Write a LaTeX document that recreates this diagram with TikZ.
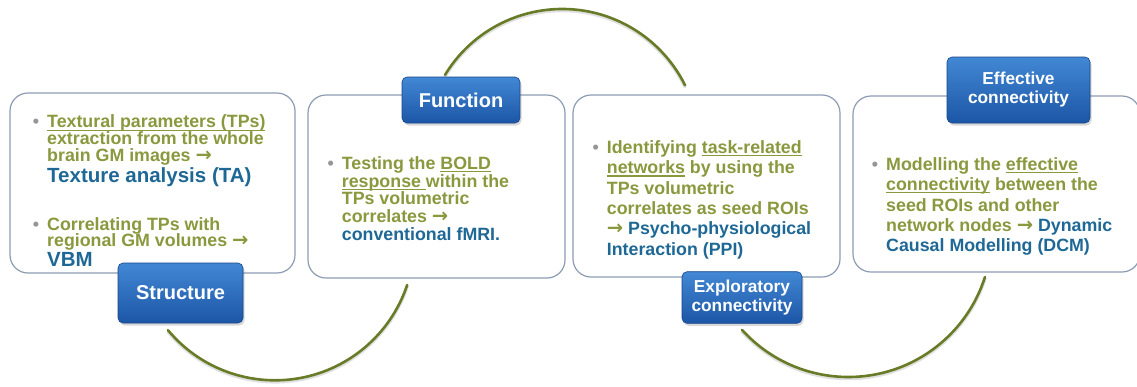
\documentclass[tikz,border=0pt]{standalone}
\usepackage{fontspec}
\setmainfont{Liberation Sans}
\newfontfamily\arrowfont{DejaVu Sans}
\usetikzlibrary{shadows,calc}

\definecolor{olivetext}{RGB}{138,152,62}
\definecolor{bluetext}{RGB}{30,104,150}
\definecolor{cardline}{RGB}{140,156,178}
\definecolor{tagtop}{RGB}{66,136,212}
\definecolor{tagbottom}{RGB}{28,86,166}
\definecolor{tagedge}{RGB}{24,70,140}
\definecolor{arccolor}{RGB}{104,124,40}
\definecolor{bulletgray}{RGB}{150,150,150}

% lines are stacked by \baselineskip alone
\setlength{\lineskiplimit}{-30pt}

% underlined run, hanging bullet, arrow and highlighted (blue) run of text
\newsavebox{\ulnbox}
\newcommand{\uln}[1]{\sbox{\ulnbox}{#1}\rlap{\rule[-2.8pt]{\wd\ulnbox}{1.2pt}}\usebox{\ulnbox}}
\newcommand{\bul}{\makebox[0pt][r]{\textcolor{bulletgray}{•}\hspace{8pt}}}
\newcommand{\rarr}{{\arrowfont\bfseries\fontsize{19.5}{16}\selectfont →}}
\newcommand{\hl}[1]{\textcolor{bluetext}{#1}}

\tikzset{
  card/.style={draw=cardline, line width=1.2pt, rounded corners=18pt, fill=white, inner sep=0pt},
  tag/.style={rounded corners=5pt, top color=tagtop, bottom color=tagbottom, draw=tagedge,
    line width=0.6pt, text=white, align=center, inner sep=0pt,
    drop shadow={opacity=0.3, shadow xshift=1.5pt, shadow yshift=-2.5pt}},
  tagbig/.style={font=\fontsize{20}{22}\selectfont\bfseries},
  tagsmall/.style={font=\fontsize{17.3}{19}\selectfont\bfseries},
  body/.style={anchor=north west, inner sep=0pt, align=left, text=olivetext},
  link/.style={draw=arccolor, line width=2.6pt, line cap=round},
  linkhalo/.style={draw=black!12, line width=3.5pt, line cap=round},
}

\begin{document}
\begin{tikzpicture}[x=1pt,y=-1pt]
\fill[white] (0,0) rectangle (1137,386);
\useasboundingbox (0,0) rectangle (1137,386);

% content cards
\node[card, minimum width=285pt, minimum height=180pt] (card1) at (152.5,183) {};
\node[card, minimum width=257pt, minimum height=183pt] (card2) at (436.5,186.5) {};
\node[card, minimum width=267pt, minimum height=182pt] (card3) at (706.5,186) {};
\node[card, minimum width=287pt, minimum height=176pt] (card4) at (996.5,184) {};

% circular links between the stages
\coordinate (hubA) at (275,241);
\coordinate (hubB) at (562.2,146.1);
\coordinate (hubC) at (848.3,233.6);
\coordinate (linkAfrom) at ($(hubA)+(140.2:139.3)$);
\coordinate (linkBfrom) at ($(hubB)+(211.3:137.1)$);
\coordinate (linkCfrom) at ($(hubC)+(137.8:143.4)$);
\draw[linkhalo] ([yshift=-1.5pt]linkAfrom) arc[start angle=140.2, end angle=18.4, radius=139.3];
\draw[linkhalo] ([yshift=-1.5pt]linkBfrom) arc[start angle=211.3, end angle=333.6, radius=137.1];
\draw[linkhalo] ([yshift=-1.5pt]linkCfrom) arc[start angle=137.8, end angle=17.6, radius=143.4];
\draw[link] (linkAfrom) arc[start angle=140.2, end angle=18.4, radius=139.3];
\draw[link] (linkBfrom) arc[start angle=211.3, end angle=333.6, radius=137.1];
\draw[link] (linkCfrom) arc[start angle=137.8, end angle=17.6, radius=143.4];

% stage tags
\node[tag, tagbig, minimum width=125pt, minimum height=60pt] (structure) at (180.5,293) {Structure};
\node[tag, tagbig, minimum width=118pt, minimum height=46pt] (function) at (461,100) {Function};
\node[tag, tagsmall, minimum width=120pt, minimum height=51.6pt] (exploratory) at (742,297.5) {Exploratory\\connectivity};
\node[tag, tagsmall, minimum width=143pt, minimum height=66pt] (effective) at (1018.5,90) {Effective\\connectivity};

% card texts
\node[body, font=\fontsize{17.8}{16.7}\selectfont\bfseries] (t1a) at (47,114.8)
  {\bul\uln{Textural parameters (TPs)}\\
   extraction from the whole\\
   brain GM images \rarr\\[4pt]
   \fontsize{20.5}{16.7}\selectfont\hl{Texture analysis (TA)}};
\node[body, font=\fontsize{17.8}{16.7}\selectfont\bfseries] (t1b) at (47,217.1)
  {\bul Correlating TPs with\\
   regional GM volumes \rarr\\[3.3pt]
   \fontsize{20.5}{16.7}\selectfont\hl{VBM}};
\node[body, font=\fontsize{17.8}{17.7}\selectfont\bfseries] (t2) at (341.7,156.4)
  {\bul Testing the \uln{BOLD}\\
   \uln{response }within the\\
   TPs volumetric\\
   correlates \rarr\\
   \hl{conventional fMRI.}};
\node[body, font=\fontsize{17.8}{20.3}\selectfont\bfseries] (t3) at (606.7,140.4)
  {\bul Identifying \uln{task-related}\\
   \uln{networks} by using the\\
   TPs volumetric\\
   correlates as seed ROIs\\
   \rarr\ \hl{Psycho-physiological}\\
   \hl{Interaction (PPI)}};
\node[body, font=\fontsize{17.8}{20.4}\selectfont\bfseries] (t4) at (886,157.1)
  {\bul Modelling the \uln{effective}\\
   \uln{connectivity} between the\\
   seed ROIs and other\\
   network nodes \rarr\ \hl{Dynamic}\\
   \hl{Causal Modelling (DCM)}};
\end{tikzpicture}
\end{document}
